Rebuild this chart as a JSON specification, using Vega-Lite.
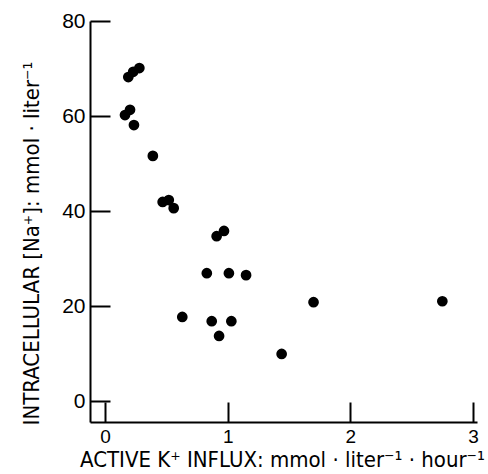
{
  "$schema": "https://vega.github.io/schema/vega-lite/v6.json",
  "width": 387,
  "height": 401,
  "autosize": {"type": "none"},
  "padding": {"left": 90, "top": 21, "right": 11, "bottom": 52},
  "background": "white",
  "config": {"view": {"stroke": null}},
  "data": {
    "values": [
      {"influx": 0.19, "na": 68.2},
      {"influx": 0.23, "na": 69.3},
      {"influx": 0.28, "na": 70.1},
      {"influx": 0.163, "na": 60.2},
      {"influx": 0.204, "na": 61.3},
      {"influx": 0.236, "na": 58.1},
      {"influx": 0.39, "na": 51.6},
      {"influx": 0.47, "na": 41.9},
      {"influx": 0.52, "na": 42.3},
      {"influx": 0.56, "na": 40.6},
      {"influx": 0.91, "na": 34.7},
      {"influx": 0.97, "na": 35.8},
      {"influx": 0.83, "na": 26.9},
      {"influx": 1.01, "na": 26.9},
      {"influx": 1.15, "na": 26.5},
      {"influx": 1.70, "na": 20.8},
      {"influx": 2.75, "na": 21.0},
      {"influx": 0.63, "na": 17.7},
      {"influx": 0.87, "na": 16.8},
      {"influx": 1.03, "na": 16.8},
      {"influx": 0.93, "na": 13.7},
      {"influx": 1.44, "na": 9.9}
    ]
  },
  "mark": {"type": "point", "filled": true, "color": "black", "opacity": 1, "size": 115},
  "encoding": {
    "x": {
      "field": "influx",
      "type": "quantitative",
      "scale": {"domain": [-0.1223, 3.0326], "nice": false, "zero": false},
      "axis": {
        "title": "ACTIVE K⁺ INFLUX: mmol · liter⁻¹ · hour⁻¹",
        "values": [0, 1, 2, 3],
        "grid": false,
        "domainColor": "black",
        "domainWidth": 2,
        "tickColor": "black",
        "tickWidth": 2,
        "tickSize": -20,
        "labelPadding": 25,
        "labelFont": "Liberation Sans",
        "labelFontSize": 19,
        "labelColor": "black",
        "labelBaseline": "top",
        "titleFont": "Liberation Sans Narrow, DejaVu Sans Condensed, sans-serif",
        "titleFontSize": 22,
        "titleFontWeight": "normal",
        "titleColor": "black",
        "titleBaseline": "alphabetic",
        "titleAlign": "center",
        "titleX": 192,
        "titleY": 44
      }
    },
    "y": {
      "field": "na",
      "type": "quantitative",
      "scale": {"domain": [-4.42, 80], "nice": false, "zero": false},
      "axis": {
        "title": "INTRACELLULAR [Na⁺]: mmol · liter⁻¹",
        "values": [0, 20, 40, 60, 80],
        "grid": false,
        "domainColor": "black",
        "domainWidth": 2,
        "tickColor": "black",
        "tickWidth": 2,
        "tickSize": -20,
        "labelPadding": 25,
        "labelFont": "Liberation Sans",
        "labelFontSize": 21,
        "labelColor": "black",
        "titleFont": "Liberation Sans Narrow, DejaVu Sans Condensed, sans-serif",
        "titleFontSize": 22,
        "titleFontWeight": "normal",
        "titleColor": "black",
        "titleAngle": 270,
        "titleBaseline": "alphabetic",
        "titleAlign": "center",
        "titleX": -52,
        "titleY": 222
      }
    }
  }
}
